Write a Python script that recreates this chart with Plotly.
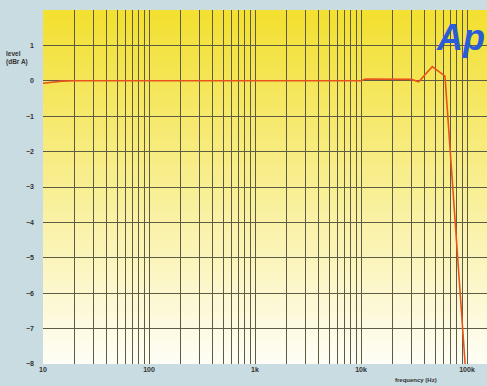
import plotly.graph_objects as go
import numpy as np

# data
freq_hz = [10, 12, 15, 20, 50, 200, 1000, 5000, 10000, 11000, 20000, 30000, 35000, 47000, 62000, 96000]
level_dbr = [-0.07, -0.04, -0.01, 0.0, 0.0, 0.0, 0.0, 0.0, 0.0, 0.05, 0.05, 0.04, -0.03, 0.4, 0.13, -8.0]

decades = [10, 100, 1000, 10000, 100000]
decade_labels = ["10", "100", "1k", "10k", "100k"]
y_ticks = [1, 0, -1, -2, -3, -4, -5, -6, -7, -8]

# grid tick positions (all 1..9 multiples) – labels only on decades
grid_vals, grid_text = [], []
for d, lab in zip(decades, decade_labels):
    for m in range(1, 10):
        v = d * m
        if v > 160000:
            continue
        grid_vals.append(v)
        grid_text.append(lab if m == 1 else "")

fig = go.Figure()
fig.add_trace(go.Scatter(x=freq_hz, y=level_dbr, mode="lines",
                         line=dict(color="#e8541c", width=1.6), showlegend=False,
                         hoverinfo="skip"))

# gradient background (yellow top -> white bottom)
shapes = []
n = 120
top = np.array([243, 224, 48])
bot = np.array([255, 254, 248])
for i in range(n):
    t = i / n
    w = t ** 1.0
    c = top * (1 - w) + bot * w
    y1 = 1 - i / n
    y0 = max(0, 1 - (i + 1.6) / n)
    shapes.append(dict(type="rect", xref="paper", yref="paper", x0=0, x1=1, y0=y0, y1=y1,
                       fillcolor="rgb(%d,%d,%d)" % tuple(c.astype(int)), line=dict(width=0),
                       layer="below"))

font_fam = "Liberation Sans, Arial, sans-serif"
fig.update_layout(
    width=487, height=386,
    margin=dict(l=43, r=0, t=10, b=22),
    paper_bgcolor="#c8dce2",
    plot_bgcolor="rgba(0,0,0,0)",
    shapes=shapes,
    font=dict(family=font_fam, size=7, color="#333333"),
    xaxis=dict(type="log", range=[1, 1 + 444 / 106], tickvals=grid_vals, ticktext=grid_text,
               showgrid=True, gridcolor="#5e5b45", gridwidth=1, ticks="", showline=False,
               zeroline=False, automargin=False,
               tickfont=dict(size=7, color="#333333", weight="bold")),
    yaxis=dict(range=[-8, 2], tickvals=y_ticks, showgrid=True, gridcolor="#5e5b45", gridwidth=1,
               ticks="", zeroline=False, showline=False, ticklabelstandoff=8, automargin=False,
               tickfont=dict(size=7, color="#333333", weight="bold")),
    annotations=[
        dict(text="level<br>(dBr A)", xref="paper", yref="paper", x=-0.088, y=0.865,
             xanchor="left", yanchor="middle", showarrow=False, align="left",
             font=dict(size=6.5, color="#333333", weight="bold")),
        dict(text="frequency (Hz)", xref="paper", yref="paper", x=0.84, y=-0.045,
             xanchor="center", yanchor="middle", showarrow=False,
             font=dict(size=6, color="#333333", weight="bold")),
        dict(text="<b><i>Ap</i></b>", xref="paper", yref="paper", x=1.0, y=0.985,
             xanchor="right", yanchor="top", showarrow=False,
             font=dict(size=36, color="#2a5cd8", family="Liberation Sans, Arial, sans-serif")),
    ],
)

fig.write_html("out.html", config={"displayModeBar": False},
               post_script="document.body.style.margin='0';document.body.style.padding='0';")
